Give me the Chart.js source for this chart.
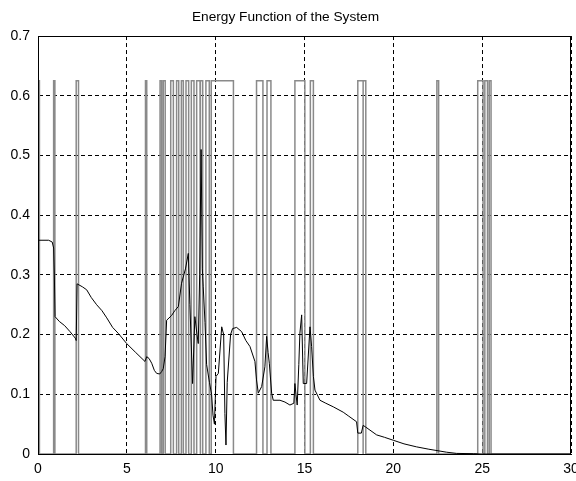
<!DOCTYPE html>
<html>
<head>
<meta charset="utf-8">
<script src="https://cdn.jsdelivr.net/npm/chart.js@4/dist/chart.umd.min.js"></script>
<style>
html,body{margin:0;padding:0;background:#fff;}
#wrap{width:576px;height:481px;}
</style>
</head>
<body>
<div id="wrap"><canvas id="c" width="576" height="481"></canvas></div>
<script>
// ---- data ----
const titleText = "Energy Function of the System";
const xTicks = [0, 5, 10, 15, 20, 25, 30];
const yTicks = [0, 0.1, 0.2, 0.3, 0.4, 0.5, 0.6, 0.7];

// energy function (black curve)
const energyX = [0, 0.6, 0.8, 0.88, 0.92, 0.96, 1.2, 1.5, 1.8, 2.1, 2.15, 2.2, 2.5, 2.74, 3.0, 3.3, 3.6, 3.87, 4.2, 4.52, 4.99, 5.5, 6.02, 6.12, 6.25, 6.4, 6.55, 6.68, 6.85, 6.96, 7.05, 7.15, 7.24, 7.52, 7.7, 7.9, 8.08, 8.3, 8.46, 8.55, 8.7, 8.83, 8.95, 9.02, 9.1, 9.18, 9.25, 9.3, 9.4, 9.49, 9.65, 9.77, 9.85, 9.93, 10.02, 10.15, 10.34, 10.45, 10.52, 10.58, 10.65, 10.84, 10.95, 11.18, 11.46, 11.7, 11.93, 12.21, 12.3, 12.4, 12.59, 12.77, 12.87, 12.95, 13.02, 13.15, 13.24, 13.62, 13.9, 14.18, 14.4, 14.46, 14.52, 14.59, 14.68, 14.74, 14.84, 14.93, 15.12, 15.31, 15.4, 15.5, 15.59, 15.87, 16.2, 16.62, 17.18, 17.46, 17.93, 18.0, 18.2, 18.3, 18.45, 19.06, 19.5, 20.0, 20.6, 21.3, 22.0, 22.4, 23.0, 23.56, 24.5, 25, 30];
const energyY = [0.358, 0.358, 0.355, 0.345, 0.3, 0.23, 0.222, 0.215, 0.205, 0.194, 0.19, 0.285, 0.28, 0.275, 0.262, 0.25, 0.24, 0.228, 0.212, 0.202, 0.185, 0.17, 0.155, 0.163, 0.16, 0.152, 0.14, 0.135, 0.134, 0.138, 0.143, 0.163, 0.224, 0.232, 0.24, 0.247, 0.286, 0.31, 0.336, 0.25, 0.118, 0.23, 0.2, 0.185, 0.3, 0.51, 0.31, 0.28, 0.22, 0.15, 0.12, 0.1, 0.065, 0.05, 0.13, 0.135, 0.213, 0.2, 0.068, 0.015, 0.12, 0.2, 0.21, 0.212, 0.205, 0.19, 0.18, 0.155, 0.124, 0.102, 0.113, 0.146, 0.197, 0.17, 0.152, 0.102, 0.09, 0.09, 0.087, 0.082, 0.085, 0.118, 0.1, 0.082, 0.15, 0.202, 0.233, 0.118, 0.118, 0.213, 0.18, 0.13, 0.107, 0.09, 0.085, 0.079, 0.07, 0.064, 0.054, 0.035, 0.035, 0.048, 0.045, 0.032, 0.028, 0.023, 0.017, 0.012, 0.008, 0.006, 0.003, 0.001, 0.0005, 0, 0];

// switching pulses (gray), level and start/end times
const pulseLevel = 0.625;
const pulseStart = [0.0, 0.88, 2.15, 6.05, 6.87, 7.05, 7.47, 7.8, 8.07, 8.33, 8.63, 8.93, 9.15, 9.45, 9.75, 12.3, 12.89, 14.46, 15.33, 18.0, 18.3, 22.45, 24.75, 25.15, 25.4];
const pulseEnd   = [0.08, 0.95, 2.28, 6.12, 6.96, 7.16, 7.62, 7.92, 8.18, 8.48, 8.78, 9.12, 9.27, 9.64, 11.0, 12.66, 13.11, 15.02, 15.5, 18.3, 18.45, 22.55, 25.05, 25.3, 25.5];

// ---- build library datasets from the arrays ----
const energyPts = energyX.map((x, i) => ({x: x, y: energyY[i]}));
const pulsePts = [];
pulseStart.forEach((a, i) => {
  const b = pulseEnd[i];
  pulsePts.push({x: a, y: 0}, {x: a, y: pulseLevel}, {x: b, y: pulseLevel}, {x: b, y: 0});
});
pulsePts.push({x: 30, y: 0});

const frame = {
  id: 'frame',
  afterDraw(chart) {
    const a = chart.chartArea, ctx = chart.ctx;
    ctx.save();
    ctx.strokeStyle = '#000';
    ctx.lineWidth = 1;
    ctx.setLineDash([]);
    ctx.strokeRect(Math.round(a.left) + 0.5, Math.round(a.top) + 0.5,
                   Math.round(a.right - a.left) - 1, Math.round(a.bottom - a.top));
    ctx.restore();
  }
};

const font = {family: '"Liberation Sans", Arial, sans-serif', size: 14};

new Chart(document.getElementById('c'), {
  type: 'line',
  data: {
    datasets: [
      {data: energyPts, borderColor: '#000', borderWidth: 1, pointRadius: 0, tension: 0, order: 1},
      {data: pulsePts, borderColor: '#8a8a8a', borderWidth: 1.5, pointRadius: 0, tension: 0, order: 2}
    ]
  },
  options: {
    responsive: false,
    animation: false,
    events: [],
    layout: {padding: {left: 0, right: 5, top: 0, bottom: 0}},
    plugins: {
      legend: {display: false},
      tooltip: {enabled: false},
      title: {
        display: true, text: titleText, color: '#000',
        font: {family: '"Liberation Sans", Arial, sans-serif', size: 13.7, weight: 'normal'},
        padding: {top: 9, bottom: 10.6}
      }
    },
    scales: {
      x: {
        type: 'linear', min: 0, max: 30,
        afterBuildTicks(s) { s.ticks = xTicks.map(v => ({value: v})); },
        afterFit(s) { s.height = 27; s.paddingRight = 0; s.paddingLeft = 0; },
        ticks: {color: '#000', font: font, padding: 7, maxRotation: 0,
                callback: v => String(v)},
        grid: {color: '#000', lineWidth: 1, drawTicks: false},
        border: {display: true, color: '#000', dash: [4, 3]}
      },
      y: {
        type: 'linear', min: 0, max: 0.7,
        afterBuildTicks(s) { s.ticks = yTicks.map(v => ({value: v})); },
        afterFit(s) { s.width = 38; s.paddingTop = 0; s.paddingBottom = 0; },
        ticks: {color: '#000', font: font, padding: 8,
                callback: v => String(Math.round(v * 10) / 10)},
        grid: {color: '#000', lineWidth: 1, drawTicks: false},
        border: {display: true, color: '#000', dash: [4, 3]}
      }
    }
  },
  plugins: [frame]
});
</script>
</body>
</html>
